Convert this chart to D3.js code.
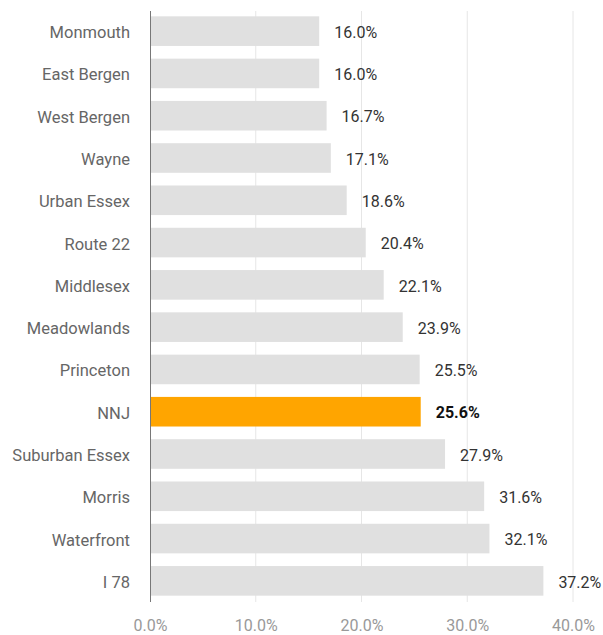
<!DOCTYPE html>
<html><head><meta charset="utf-8">
<script src="https://cdn.jsdelivr.net/npm/d3@7"></script>
<style>body{margin:0;background:#fff;}svg{display:block;font-family:Roboto,"Open Sans",sans-serif;}</style>
</head><body>
<svg id="c" width="603" height="635"></svg>
<script>
const categories = ["Monmouth","East Bergen","West Bergen","Wayne","Urban Essex","Route 22","Middlesex","Meadowlands","Princeton","NNJ","Suburban Essex","Morris","Waterfront","I 78"];
const values = [16.0,16.0,16.7,17.1,18.6,20.4,22.1,23.9,25.5,25.6,27.9,31.6,32.1,37.2];
const highlight = "NNJ";
const ticks = [0,10,20,30,40];

const svg = d3.select("#c");
const x = d3.scaleLinear().domain([0,40]).range([150,573]);
const y = d3.scaleBand().domain(categories).range([10,602]).paddingInner(0.3).paddingOuter(0.15);

// gridlines
svg.append("g").selectAll("line").data(ticks.slice(1)).join("line")
  .attr("x1",d=>x(d)).attr("x2",d=>x(d)).attr("y1",11).attr("y2",602)
  .attr("stroke","#e6e6e6").attr("stroke-width",1);

// bars
svg.append("g").selectAll("rect").data(categories).join("rect")
  .attr("x",x(0)).attr("y",d=>y(d)).attr("height",y.bandwidth())
  .attr("width",(d,i)=>x(values[i])-x(0))
  .attr("fill",d=>d===highlight?"#FFA500":"#E0E0E0");

// value labels
svg.append("g").selectAll("text").data(categories).join("text")
  .attr("x",(d,i)=>x(values[i])+15).attr("y",d=>y(d)+y.bandwidth()/2)
  .attr("dy","0.42em").attr("font-size",16)
  .attr("fill",d=>d===highlight?"#111":"#333")
  .attr("font-weight",d=>d===highlight?"bold":"normal")
  .text((d,i)=>values[i].toFixed(1)+"%");

// category labels
svg.append("g").selectAll("text").data(categories).join("text")
  .attr("x",130).attr("y",d=>y(d)+y.bandwidth()/2).attr("dy","0.42em")
  .attr("text-anchor","end").attr("font-size",16.5).attr("fill","#666")
  .text(d=>d);

// axis line
svg.append("line").attr("x1",x(0)+0.5).attr("x2",x(0)+0.5).attr("y1",11).attr("y2",602)
  .attr("stroke","#777").attr("stroke-width",1);

// x axis
const ax = svg.append("g").attr("transform","translate(0,602)")
  .call(d3.axisBottom(x).tickValues(ticks).tickFormat(d=>d.toFixed(1)+"%").tickSize(0).tickPadding(18));
ax.select(".domain").remove();
ax.selectAll("text").attr("font-size",16).attr("fill","#999").attr("font-family","Roboto,sans-serif");
</script>
</body></html>
